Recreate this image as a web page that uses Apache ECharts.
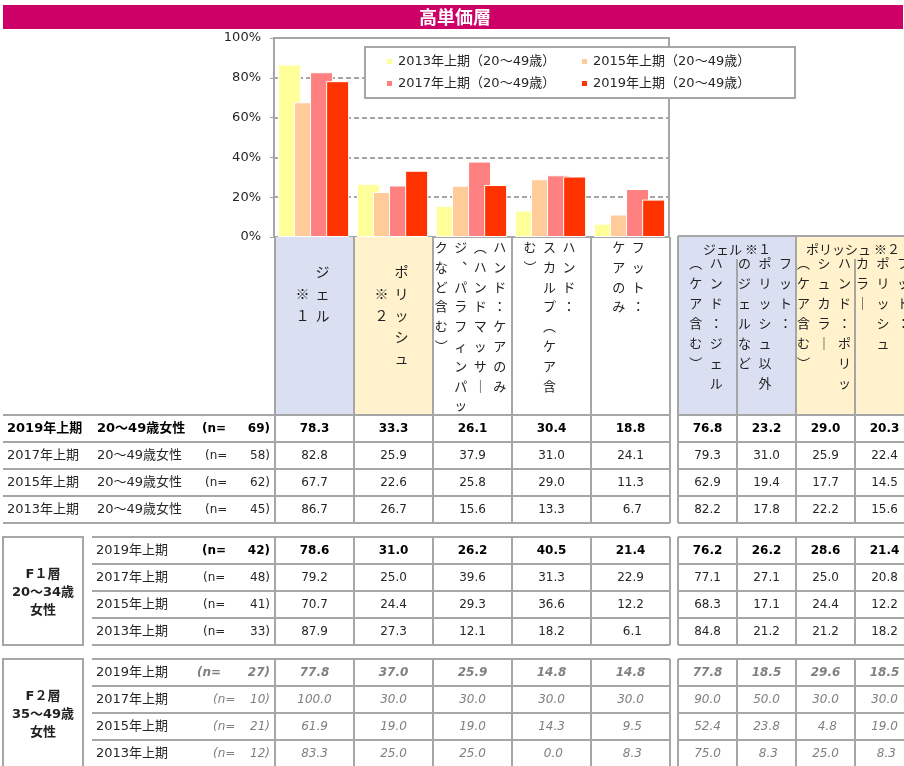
<!DOCTYPE html>
<html lang="ja">
<head>
<meta charset="UTF-8">
<title>高単価層</title>
<style>
  body { margin: 0; background: #fff; }
  #main { width: 904px; height: 766px; }
</style>
</head>
<body>
<div id="main"></div>
<script src="https://cdn.jsdelivr.net/npm/echarts@6/dist/echarts.min.js"></script>
<script>
// categories / legend
const cats = ['ジェル※1', 'ポリッシュ※2', 'ハンド：ケアのみ', 'ハンド：スカルプ', 'フット：ケアのみ'];
const seriesNames = ['2013年上期（20～49歳）', '2015年上期（20～49歳）', '2017年上期（20～49歳）', '2019年上期（20～49歳）'];
const colors = ['#ffff99', '#ffcc99', '#ff8080', '#ff3300'];

// bar values (20~49歳女性)
const v2013 = [86.7, 26.7, 15.6, 13.3, 6.7];
const v2015 = [67.7, 22.6, 25.8, 29.0, 11.3];
const v2017 = [82.8, 25.9, 37.9, 31.0, 24.1];
const v2019 = [78.3, 33.3, 26.1, 30.4, 18.8];

// table
const rowYears = ['2019年上期', '2017年上期', '2015年上期', '2013年上期'];
const totalN = [69, 58, 62, 45];
const totalRight = [
  [76.8, 23.2, 29.0, 20.3],
  [79.3, 31.0, 25.9, 22.4],
  [62.9, 19.4, 17.7, 14.5],
  [82.2, 17.8, 22.2, 15.6]
];
const f1N = [42, 48, 41, 33];
const f1Vals = [
  [78.6, 31.0, 26.2, 40.5, 21.4, 76.2, 26.2, 28.6, 21.4],
  [79.2, 25.0, 39.6, 31.3, 22.9, 77.1, 27.1, 25.0, 20.8],
  [70.7, 24.4, 29.3, 36.6, 12.2, 68.3, 17.1, 24.4, 12.2],
  [87.9, 27.3, 12.1, 18.2, 6.1, 84.8, 21.2, 21.2, 18.2]
];
const f2N = [27, 10, 21, 12];
const f2Vals = [
  [77.8, 37.0, 25.9, 14.8, 14.8, 77.8, 18.5, 29.6, 18.5],
  [100.0, 30.0, 30.0, 30.0, 30.0, 90.0, 50.0, 30.0, 30.0],
  [61.9, 19.0, 19.0, 14.3, 9.5, 52.4, 23.8, 4.8, 19.0],
  [83.3, 25.0, 25.0, 0.0, 8.3, 75.0, 8.3, 25.0, 8.3]
];

// header texts, written right-to-left by column (vertical writing)
const headLeft = [
  ['ジェル', '　※１'],
  ['ポリッシュ', '　※２'],
  ['ハンド：ケアのみ', '（ハンドマッサー', 'ジ、パラフィンパッ', 'クなど含む）'],
  ['ハンド：', 'スカルプ（ケア含', 'む）'],
  ['フット：', 'ケアのみ']
];
const headRightTop = ['ジェル ※１', 'ポリッシュ ※２'];
const headRight = [
  ['ハンド：ジェル', '（ケア含む）'],
  ['フット：', 'ポリッシュ以外', 'のジェルなど'],
  ['ハンド：ポリッ', 'シュカラー', '（ケア含む）'],
  ['フット：', 'ポリッシュ', 'カラー']
];
const fLabels = [['F１層', '20～34歳', '女性'], ['F２層', '35～49歳', '女性']];

const chart = echarts.init(document.getElementById('main'));

const LINE = '#a6a6a6';
const NUM = "'DejaVu Sans','Noto Sans CJK JP'";
const JP = "'Noto Sans CJK JP'";
const L = [275, 354, 433, 512, 591, 670];
const R = [678, 737, 796, 855, 914];
const rowH = 27;
const els = [];

function line(x1, y1, x2, y2) {
  els.push({ type: 'line', z: 1, shape: { x1, y1, x2, y2 }, style: { stroke: LINE, lineWidth: 2 } });
}
function rect(x, y, w, h, fill, stroke) {
  els.push({ type: 'rect', z: 1, shape: { x, y, width: w, height: h },
    style: { fill, stroke: stroke || null, lineWidth: stroke ? 2 : 0 } });
}
function text(x, y, t, o) {
  o = o || {};
  els.push({ type: 'text', z: 5, x, y, style: {
    text: t, fill: o.color || '#262626', fontSize: o.size || 12, fontFamily: o.family || NUM,
    fontWeight: o.bold ? 'bold' : 'normal', fontStyle: o.italic ? 'italic' : 'normal',
    textAlign: o.align || 'center', textVerticalAlign: 'middle' } });
}
const vmap = { 'ー': '｜', '（': '︵', '）': '︶', '、': '︑' };
function vtext(cols, cx, y0, step, sp, size) {
  cols.forEach((str, k) => {
    const x = cx + (cols.length - 1) / 2 * sp - k * sp;
    Array.from(str).forEach((ch, i) => {
      if (ch === '　') return;
      text(x, y0 + i * step, vmap[ch] || ch, { size, family: JP, color: '#222' });
    });
  });
}
const fmt = v => (v < 10 ? ' ' : '') + v.toFixed(1);

// title bar
rect(3, 5, 900, 24, '#cc0066');
text(455, 17, '高単価層', { size: 18, bold: true, color: '#fff', family: JP });

// legend box
els.push({ type: 'rect', z: 3, shape: { x: 365, y: 47, width: 430, height: 51 },
  style: { fill: '#fff', stroke: LINE, lineWidth: 2 } });

// header under the chart
rect(L[0], 237, L[1] - L[0], 178, '#dae0f2');
rect(L[1], 237, L[2] - L[1], 178, '#fff2cc');
L.forEach(x => line(x, 237, x, 415));
headLeft.forEach((cols, c) => {
  const cx = (L[c] + L[c + 1]) / 2 - 2;
  if (c < 2) vtext(cols, cx, 272, 21.7, 20, 14);
  else vtext(cols, cx, 247, 19.8, 19.5, 13);
});

// right header
rect(R[0], 236, R[2] - R[0], 179, '#dae0f2');
rect(R[2], 236, R[4] - R[2], 179, '#fff2cc');
line(R[0], 236, 904, 236);
line(R[0], 236, R[0], 415);
line(R[2], 236, R[2], 415);
line(R[1], 259, R[1], 415);
line(R[3], 259, R[3], 415);
text(737, 249, headRightTop[0], { size: 13, family: JP, color: '#222' });
text(853, 249, headRightTop[1], { size: 13, family: JP, color: '#222' });
headRight.forEach((cols, c) => {
  vtext(cols, (R[c] + R[c + 1]) / 2 - 1.5, 263, 20, 20.5, 13);
});

// table grid + values
function values(top, vals, style) {
  vals.forEach((row, r) => {
    const y = top + r * rowH + rowH / 2;
    row.forEach((v, c) => {
      const cx = c < 5 ? (L[c] + L[c + 1]) / 2 : (R[c - 5] + R[c - 4]) / 2;
      text(cx, y, fmt(v), style(r));
    });
  });
}
function grid(top, x0) {
  for (let r = 0; r <= 4; r++) {
    line(x0, top + r * rowH, L[5], top + r * rowH);
    line(R[0], top + r * rowH, 904, top + r * rowH);
  }
  L.concat(R.slice(0, 4)).forEach(x => line(x, top, x, top + 4 * rowH));
}

// section 1: 20~49歳女性
const s1 = 415;
grid(s1, 3);
const totalVals = [v2019, v2017, v2015, v2013].map((a, i) => a.concat(totalRight[i]));
values(s1, totalVals, r => ({ bold: r === 0, color: r === 0 ? '#000' : '#262626' }));
rowYears.forEach((yr, r) => {
  const y = s1 + r * rowH + rowH / 2, b = r === 0, col = b ? '#000' : '#262626';
  text(7, y, yr, { size: 13, align: 'left', bold: b, color: col });
  text(97, y, '20～49歳女性', { size: 13, align: 'left', bold: b, color: col });
  text(b ? 202 : 205, y, '(n=', { size: 12, align: 'left', bold: b, color: col });
  text(270, y, totalN[r] + ')', { size: 12, align: 'right', bold: b, color: col });
});

// sections F1 / F2
[[537, f1N, f1Vals, false], [659, f2N, f2Vals, true]].forEach(([top, ns, vals, small], s) => {
  grid(top, 92);
  rect(3, top, 80, 4 * rowH, '#fff', LINE);
  fLabels[s].forEach((t, i) => text(43, top + 38 + i * 18, t, { size: 13, bold: true, color: '#222' }));
  const st = r => small
    ? { bold: r === 0, italic: true, color: '#808080' }
    : { bold: r === 0, color: r === 0 ? '#000' : '#262626' };
  values(top, vals, st);
  rowYears.forEach((yr, r) => {
    const y = top + r * rowH + rowH / 2;
    text(96, y, yr, { size: 13, align: 'left', color: '#262626' });
    const nx = small ? (r === 0 ? 197 : 213) : (r === 0 ? 202 : 203);
    text(nx, y, '(n=', Object.assign({ size: 12, align: 'left' }, st(r)));
    text(270, y, ns[r] + ')', Object.assign({ size: 12, align: 'right' }, st(r)));
  });
});

const legendBase = {
  orient: 'vertical', itemWidth: 7, itemHeight: 7, itemGap: 9, icon: 'rect', padding: 0,
  textStyle: { fontSize: 13, color: '#262626', fontFamily: NUM }, selectedMode: false
};

const option = {
  animation: false,
  grid: { left: 274, top: 38, width: 395, height: 199, show: true, borderColor: LINE, borderWidth: 2 },
  legend: [
    Object.assign({ left: 385, top: 55, data: [seriesNames[0], seriesNames[2]] }, legendBase),
    Object.assign({ left: 580, top: 55, data: [seriesNames[1], seriesNames[3]] }, legendBase)
  ],
  xAxis: {
    type: 'category', data: cats,
    axisLine: { lineStyle: { color: LINE, width: 2 } },
    axisTick: { show: false }, axisLabel: { show: false }
  },
  yAxis: {
    type: 'value', min: 0, max: 100, interval: 20,
    axisLine: { show: true, lineStyle: { color: LINE, width: 2 } },
    axisTick: { show: true, length: 4, lineStyle: { color: LINE } },
    axisLabel: { formatter: '{value}%', fontSize: 13, color: '#262626', fontFamily: NUM, margin: 13 },
    splitLine: { lineStyle: { color: LINE, width: 2, type: [5, 3] } }
  },
  series: [v2013, v2015, v2017, v2019].map((d, i) => ({
    name: seriesNames[i], type: 'bar', data: d,
    barWidth: 23, barGap: '-30%',
    itemStyle: { color: colors[i], borderColor: '#fff', borderWidth: 1 }
  })),
  graphic: { elements: els }
};

chart.setOption(option);
</script>
</body>
</html>
